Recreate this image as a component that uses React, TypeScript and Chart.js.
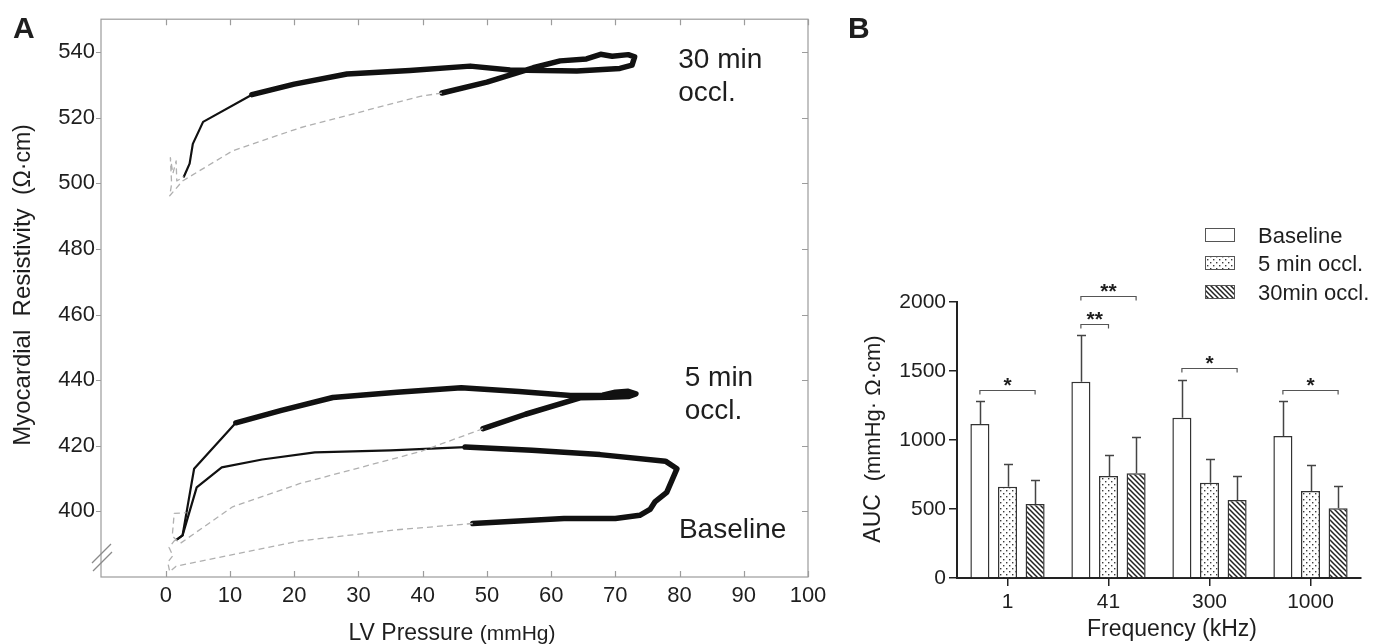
import React, { useEffect, useRef } from 'react';
import { Chart, registerables } from 'chart.js';

Chart.register(...registerables);

const FONT = '"Liberation Sans", Arial, Helvetica, sans-serif';
const INK = '#1e1e1e';

// ---------------- Panel A: resistivity vs LV pressure loops ----------------
// [LV pressure (mmHg), resistivity (Ω·cm)]
const baselineThin = [[1.7, 391.4], [2.6, 392.7], [4.8, 407.3], [8.7, 413.4], [15, 415.8], [23.2, 418], [35, 418.6], [46.6, 419.6]];
const baselineThick = [[46.6, 419.6], [57, 418.6], [67.6, 417.3], [77.8, 415.3], [79.6, 413], [78, 405.8], [76.2, 403], [75.4, 400.6], [73.8, 398.8], [70, 397.8], [62, 397.8], [47.8, 396.3]];
const baselineDash = [[47.8, 396.3], [36, 394.4], [20.9, 391], [1.6, 383.3], [0.6, 381.6], [0.3, 384.5], [1.1, 386.5], [0.5, 389], [1.3, 391], [1.7, 391.4]];

const occl5Thin = [[1.7, 391.4], [2.6, 392.7], [4.4, 413], [10.9, 427]];
const occl5Thick = [[10.9, 427], [18, 430.8], [26, 434.7], [36, 436.3], [46, 437.7], [55, 436.5], [63, 435.3], [68, 435.4], [70, 436.3], [72, 436.6], [73.2, 435.8], [72, 435], [69, 434.8], [64.5, 434.6], [56, 429.6], [49.4, 425.2]];
const occl5Dash = [[49.4, 425.2], [39.6, 418.2], [20.9, 408.5], [10.4, 401.4], [2.2, 390.2], [1.0, 392.5], [1.3, 399.4], [3.2, 399.6]];

const occl30Thin = [[2.8, 502], [3.7, 506], [4.2, 512], [5.8, 518.7], [13.4, 527]];
const occl30Thick = [[13.4, 527], [20, 530.2], [28.2, 533.3], [38, 534.4], [47.4, 535.7], [53.6, 534.5], [64, 534.2], [70.7, 535], [72.6, 536], [73, 538.5], [72, 539.2], [69.5, 538.7], [67.7, 539.3], [65.5, 537.9], [61.4, 537.3], [57.2, 535.2], [50, 530.8], [43, 527.5]];
const occl30Dash = [[43, 527.5], [39.6, 526.5], [20.9, 516.9], [10.4, 509.9], [2.6, 500.7], [0.6, 496.2], [0.9, 499.8], [0.7, 507.8], [1.1, 503], [1.6, 506.8], [1.7, 500.7], [2.8, 502]];

const xTicksA = [0, 10, 20, 30, 40, 50, 60, 70, 80, 90, 100];
const yTicksA = [400, 420, 440, 460, 480, 500, 520, 540];

const loopLabels = [
  { lines: ['30 min', 'occl.'], x: 79.8, y: 535.1 },
  { lines: ['5 min', 'occl.'], x: 80.8, y: 438.3 },
  { lines: ['Baseline'], x: 79.9, y: 391.8 },
];

// ---------------- Panel B: AUC per frequency ----------------
const frequencies = ['1', '41', '300', '1000'];
const baselineAUC = [1116, 1422, 1162, 1029];
const baselineSD = [167, 339, 273, 256];
const occl5AUC = [662, 739, 691, 630];
const occl5SD = [164, 152, 169, 186];
const occl30AUC = [536, 759, 565, 505];
const occl30SD = [174, 265, 174, 162];
const yTicksB = [0, 500, 1000, 1500, 2000];
const seriesNames = ['Baseline', '5 min occl.', '30min occl.'];

// significance brackets: category, from series, to series, bracket level, label
const sigCats = [0, 1, 1, 2, 3];
const sigFrom = [0, 0, 0, 0, 0];
const sigTo = [2, 1, 2, 2, 2];
const sigLevel = [1362, 1841, 2043, 1522, 1362];
const sigText = ['*', '**', '**', '*', '*'];

type Piece = { text: string; size: number };

function toXY(a: number[][]) {
  return a.map(([x, y]) => ({ x, y }));
}

function drawPieces(ctx: CanvasRenderingContext2D, pieces: Piece[], cx: number, cy: number, angle: number) {
  ctx.save();
  ctx.translate(cx, cy);
  ctx.rotate(angle);
  let total = 0;
  for (const p of pieces) {
    ctx.font = `${p.size}px ${FONT}`;
    total += ctx.measureText(p.text).width;
  }
  let x = -total / 2;
  ctx.textAlign = 'left';
  ctx.textBaseline = 'alphabetic';
  ctx.fillStyle = INK;
  for (const p of pieces) {
    ctx.font = `${p.size}px ${FONT}`;
    ctx.fillText(p.text, x, 0);
    x += ctx.measureText(p.text).width;
  }
  ctx.restore();
}

function makeDots(): CanvasPattern {
  const c = document.createElement('canvas');
  c.width = 6;
  c.height = 6;
  const g = c.getContext('2d')!;
  g.fillStyle = '#fff';
  g.fillRect(0, 0, 6, 6);
  g.fillStyle = '#3a3a3a';
  g.fillRect(1, 1, 1.4, 1.4);
  g.fillRect(4, 4, 1.4, 1.4);
  return g.createPattern(c, 'repeat')!;
}

function makeHatch(): CanvasPattern {
  const s = 5;
  const c = document.createElement('canvas');
  c.width = s;
  c.height = s;
  const g = c.getContext('2d')!;
  g.fillStyle = '#fff';
  g.fillRect(0, 0, s, s);
  g.strokeStyle = '#222';
  g.lineWidth = 1.5;
  g.beginPath();
  g.moveTo(-1, -1);
  g.lineTo(s + 1, s + 1);
  g.moveTo(-1, s - 1);
  g.lineTo(1, s + 1);
  g.moveTo(s - 1, -1);
  g.lineTo(s + 1, 1);
  g.stroke();
  return g.createPattern(c, 'repeat')!;
}

function lineSet(data: number[][], kind: 'thin' | 'thick' | 'dash') {
  return {
    data: toXY(data),
    showLine: true,
    pointRadius: 0,
    pointHoverRadius: 0,
    borderColor: kind === 'dash' ? '#b0b0b0' : '#111',
    borderWidth: kind === 'thick' ? 5.5 : kind === 'thin' ? 2.2 : 1.3,
    borderDash: kind === 'dash' ? [6, 4] : [],
    borderCapStyle: kind === 'dash' ? 'butt' : 'round',
    borderJoinStyle: 'round',
    tension: 0,
    fill: false,
  };
}

const plainNumber = (v: any) => String(v);

const panelAPlugin = {
  id: 'panelA',
  afterDraw(chart: any) {
    const ctx: CanvasRenderingContext2D = chart.ctx;
    const { left, right, top, bottom } = chart.chartArea;
    const xs = chart.scales.x;
    const ys = chart.scales.y;
    ctx.save();
    // frame
    ctx.strokeStyle = '#9c9c9c';
    ctx.lineWidth = 1.2;
    ctx.strokeRect(left, top, right - left, bottom - top);
    ctx.beginPath();
    for (const v of yTicksA) {
      const y = Math.round(ys.getPixelForValue(v)) + 0.5;
      ctx.moveTo(left - 5, y);
      ctx.lineTo(left, y);
      ctx.moveTo(right - 6, y);
      ctx.lineTo(right, y);
    }
    for (const v of xTicksA) {
      const x = Math.round(xs.getPixelForValue(v)) + 0.5;
      ctx.moveTo(x, bottom);
      ctx.lineTo(x, bottom - 6);
      ctx.moveTo(x, top);
      ctx.lineTo(x, top + 6);
    }
    ctx.stroke();
    // axis break marks
    ctx.strokeStyle = '#8a8a8a';
    ctx.lineWidth = 1.3;
    ctx.beginPath();
    ctx.moveTo(left - 9, bottom - 14);
    ctx.lineTo(left + 10, bottom - 33);
    ctx.moveTo(left - 8, bottom - 6);
    ctx.lineTo(left + 11, bottom - 25);
    ctx.stroke();
    // loop labels
    ctx.fillStyle = INK;
    ctx.font = `28px ${FONT}`;
    ctx.textAlign = 'left';
    ctx.textBaseline = 'alphabetic';
    for (const lab of loopLabels) {
      const px = xs.getPixelForValue(lab.x);
      const py = ys.getPixelForValue(lab.y);
      lab.lines.forEach((t, i) => ctx.fillText(t, px, py + i * 33));
    }
    // panel letter
    ctx.font = `bold 30px ${FONT}`;
    ctx.fillText('A', 13, 38);
    ctx.restore();
    // axis titles
    drawPieces(ctx, [{ text: 'Myocardial  Resistivity  ', size: 24 }, { text: '(Ω·cm)', size: 23 }], 30, 285, -Math.PI / 2);
    drawPieces(ctx, [{ text: 'LV Pressure ', size: 23 }, { text: '(mmHg)', size: 21 }], 452, 640, 0);
  },
};

const panelBPlugin = {
  id: 'panelB',
  afterDraw(chart: any, _args: any, opts: any) {
    const ctx: CanvasRenderingContext2D = chart.ctx;
    const ys = chart.scales.y;
    const means = [baselineAUC, occl5AUC, occl30AUC];
    const sds = [baselineSD, occl5SD, occl30SD];
    ctx.save();
    // error bars
    ctx.strokeStyle = '#444';
    ctx.lineWidth = 1.5;
    ctx.beginPath();
    for (let i = 0; i < 3; i++) {
      const meta = chart.getDatasetMeta(i);
      meta.data.forEach((bar: any, j: number) => {
        const yTop = Math.round(ys.getPixelForValue(means[i][j] + sds[i][j])) + 0.5;
        const x = Math.round(bar.x) + 0.5;
        ctx.moveTo(x, bar.y);
        ctx.lineTo(x, yTop);
        ctx.moveTo(x - 4.5, yTop);
        ctx.lineTo(x + 4.5, yTop);
      });
    }
    ctx.stroke();
    // significance brackets
    ctx.strokeStyle = '#555';
    ctx.lineWidth = 1.2;
    ctx.fillStyle = INK;
    ctx.textAlign = 'center';
    ctx.textBaseline = 'alphabetic';
    ctx.font = `bold 21px ${FONT}`;
    for (let k = 0; k < sigCats.length; k++) {
      const x1 = chart.getDatasetMeta(sigFrom[k]).data[sigCats[k]].x;
      const x2 = chart.getDatasetMeta(sigTo[k]).data[sigCats[k]].x;
      const y = Math.round(ys.getPixelForValue(sigLevel[k])) + 0.5;
      ctx.beginPath();
      ctx.moveTo(x1, y + 4);
      ctx.lineTo(x1, y);
      ctx.lineTo(x2, y);
      ctx.lineTo(x2, y + 4);
      ctx.stroke();
      ctx.fillText(sigText[k], (x1 + x2) / 2, y + 1);
    }
    // legend
    const fills = opts.fills as (string | CanvasPattern)[];
    const baselines = [243, 271, 300];
    ctx.textAlign = 'left';
    ctx.font = `22px ${FONT}`;
    for (let i = 0; i < 3; i++) {
      const by = baselines[i] - 15;
      ctx.fillStyle = fills[i] as any;
      ctx.fillRect(365, by, 30, 14);
      ctx.strokeStyle = '#555';
      ctx.lineWidth = 1;
      ctx.strokeRect(365.5, by + 0.5, 29, 13);
      ctx.fillStyle = INK;
      ctx.fillText(seriesNames[i], 418, baselines[i]);
    }
    ctx.font = `bold 30px ${FONT}`;
    ctx.fillText('B', 8, 38);
    ctx.restore();
    drawPieces(ctx, [{ text: 'AUC  ', size: 23 }, { text: '(mmHg· Ω·cm)', size: 22 }], 40, 439, -Math.PI / 2);
    drawPieces(ctx, [{ text: 'Frequency (kHz)', size: 23 }], 332, 636, 0);
  },
};

export default function App() {
  const refA = useRef<HTMLCanvasElement>(null);
  const refB = useRef<HTMLCanvasElement>(null);

  useEffect(() => {
    document.body.style.margin = '0';
    const dots = makeDots();
    const hatch = makeHatch();

    const chartA = new Chart(refA.current!, {
      type: 'scatter',
      data: {
        datasets: [
          lineSet(baselineDash, 'dash'),
          lineSet(occl5Dash, 'dash'),
          lineSet(occl30Dash, 'dash'),
          lineSet(baselineThin, 'thin'),
          lineSet(occl5Thin, 'thin'),
          lineSet(occl30Thin, 'thin'),
          lineSet(baselineThick, 'thick'),
          lineSet(occl5Thick, 'thick'),
          lineSet(occl30Thick, 'thick'),
        ] as any,
      },
      options: {
        responsive: false,
        animation: false,
        events: [],
        layout: { padding: { top: 18, right: 32, left: 0, bottom: 0 } },
        plugins: { legend: { display: false }, tooltip: { enabled: false } },
        scales: {
          x: {
            type: 'linear',
            min: -10.1,
            max: 100,
            afterBuildTicks: (s: any) => {
              s.ticks = xTicksA.map((v) => ({ value: v }));
            },
            afterFit: (s: any) => {
              s.height = 67;
            },
            grid: { display: false, drawTicks: false },
            border: { display: false },
            ticks: { font: { family: FONT, size: 22 }, color: INK, padding: 6, maxRotation: 0, autoSkip: false, callback: plainNumber },
          },
          y: {
            type: 'linear',
            min: 380,
            max: 550,
            afterBuildTicks: (s: any) => {
              s.ticks = yTicksA.map((v) => ({ value: v }));
            },
            afterFit: (s: any) => {
              s.width = 101;
            },
            grid: { display: false, drawTicks: false },
            border: { display: false },
            ticks: { font: { family: FONT, size: 22 }, color: INK, padding: 6, autoSkip: false, callback: plainNumber },
          },
        },
      } as any,
      plugins: [panelAPlugin],
    });

    const chartB = new Chart(refB.current!, {
      type: 'bar',
      data: {
        labels: frequencies,
        datasets: [
          { label: seriesNames[0], data: baselineAUC, backgroundColor: '#fff' },
          { label: seriesNames[1], data: occl5AUC, backgroundColor: dots },
          { label: seriesNames[2], data: occl30AUC, backgroundColor: hatch },
        ].map((d) => ({
          ...d,
          borderColor: '#333',
          borderWidth: 1.5,
          barPercentage: 0.69,
          categoryPercentage: 0.82,
        })) as any,
      },
      options: {
        responsive: false,
        animation: false,
        events: [],
        layout: { padding: { top: 302, right: 14, left: 0, bottom: 0 } },
        plugins: {
          legend: { display: false },
          tooltip: { enabled: false },
          panelB: { fills: ['#fff', dots, hatch] },
        },
        scales: {
          x: {
            type: 'category',
            afterFit: (s: any) => {
              s.height = 66;
            },
            grid: { display: true, drawOnChartArea: false, offset: false, tickLength: 8, color: '#222', lineWidth: 1.5 },
            border: { display: true, color: '#222', width: 2 },
            ticks: { font: { family: FONT, size: 21 }, color: INK, padding: 4, maxRotation: 0 },
          },
          y: {
            type: 'linear',
            min: 0,
            max: 2000,
            afterBuildTicks: (s: any) => {
              s.ticks = yTicksB.map((v) => ({ value: v }));
            },
            afterFit: (s: any) => {
              s.width = 117;
            },
            grid: { display: true, drawOnChartArea: false, tickLength: 8, color: '#222', lineWidth: 1.5 },
            border: { display: true, color: '#222', width: 2 },
            ticks: { font: { family: FONT, size: 21 }, color: INK, padding: 3, callback: plainNumber },
          },
        },
      } as any,
      plugins: [panelBPlugin],
    });

    return () => {
      chartA.destroy();
      chartB.destroy();
    };
  }, []);

  return (
    <div style={{ position: 'fixed', left: 0, top: 0, width: 1375, height: 644, background: '#fff' }}>
      <canvas ref={refA} width={840} height={644} style={{ position: 'absolute', left: 0, top: 0 }} />
      <canvas ref={refB} width={535} height={644} style={{ position: 'absolute', left: 840, top: 0 }} />
    </div>
  );
}
